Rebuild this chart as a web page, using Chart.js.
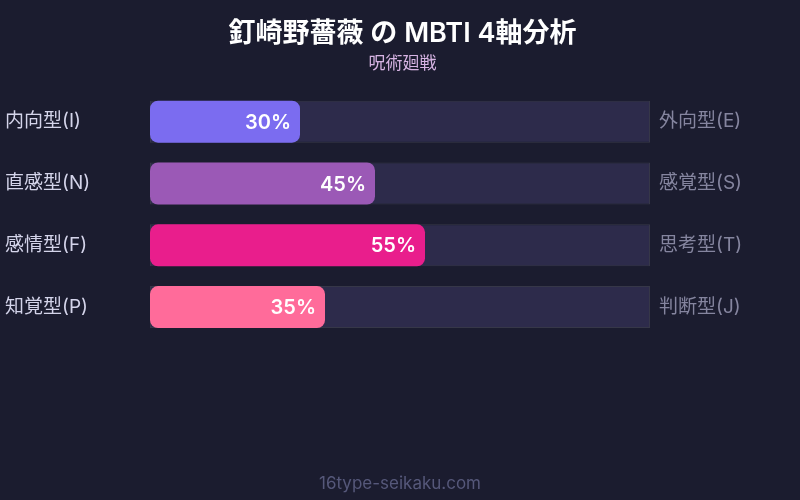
<!DOCTYPE html>
<html>
<head>
<meta charset="utf-8">
<script src="https://cdn.jsdelivr.net/npm/chart.js@4.4.1/dist/chart.umd.min.js"></script>
<style>
  html, body { margin: 0; padding: 0; background: #1b1c2f; }
  #wrap { width: 800px; height: 500px; }
</style>
</head>
<body>
<div id="wrap"><canvas id="mbti"></canvas></div>
<script>
var leftLabels = ['内向型(I)', '直感型(N)', '感情型(F)', '知覚型(P)'];
var rightLabels = ['外向型(E)', '感覚型(S)', '思考型(T)', '判断型(J)'];
var scores = [30, 45, 55, 35];
var fullScale = [100, 100, 100, 100];
var barColors = ['#7b6cf0', '#9b59b6', '#e91e8c', '#ff6b9a'];

var FONT = "Inter, 'Noto Sans CJK JP', sans-serif";

// percent text inside the end of each bar
var valueLabels = {
  id: 'valueLabels',
  afterDatasetsDraw: function(chart) {
    var c = chart.ctx;
    var meta = chart.getDatasetMeta(0);
    c.save();
    c.font = '600 20px ' + FONT;
    c.fillStyle = '#ffffff';
    c.textAlign = 'right';
    c.textBaseline = 'middle';
    meta.data.forEach(function(bar, i) {
      c.fillText(scores[i] + '%', bar.x - 9, bar.y + 1);
    });
    c.restore();
  }
};

// site name at the bottom
var footer = {
  id: 'footer',
  afterDraw: function(chart) {
    var c = chart.ctx;
    c.save();
    c.font = '17px ' + FONT;
    c.fillStyle = '#56587a';
    c.textAlign = 'center';
    c.textBaseline = 'middle';
    c.fillText('16type-seikaku.com', chart.width / 2, 484);
    c.restore();
  }
};

var ctx = document.getElementById('mbti').getContext('2d');
var myChart = new Chart(ctx, {
  type: 'bar',
  data: {
    labels: leftLabels,
    datasets: [{
      data: scores,
      backgroundColor: barColors,
      borderRadius: 8,
      borderSkipped: false,
      grouped: false,
      barPercentage: 0.68,
      categoryPercentage: 1
    },
    {
      data: fullScale,
      backgroundColor: '#2d2b4b',
      borderColor: 'rgba(255, 255, 255, 0.12)',
      borderWidth: 1,
      borderSkipped: false,
      grouped: false,
      barPercentage: 0.68,
      categoryPercentage: 1
    }]
  },
  options: {
    indexAxis: 'y',
    responsive: true,
    maintainAspectRatio: false,
    animation: false,
    events: [],
    layout: { padding: { left: 5, right: 0, top: 0, bottom: 162 } },
    plugins: {
      legend: { display: false },
      tooltip: { enabled: false },
      title: {
        display: true,
        text: '釘崎野薔薇 の MBTI 4軸分析',
        color: '#ffffff',
        font: { family: FONT, size: 27, weight: '600' },
        padding: { top: 18, bottom: 1 }
      },
      subtitle: {
        display: true,
        text: '呪術廻戦',
        color: '#d7b4e4',
        font: { family: FONT, size: 17 },
        padding: { top: 2, bottom: 17 }
      }
    },
    scales: {
      x: { display: false, min: 0, max: 100 },
      y: {
        position: 'left',
        grid: { display: false, drawTicks: false },
        border: { display: false },
        ticks: { color: '#d4d4ea', font: { family: FONT, size: 19 }, crossAlign: 'far', padding: 0 },
        afterFit: function(scale) { scale.width = 145; }
      },
      y2: {
        type: 'category',
        labels: rightLabels,
        position: 'right',
        grid: { display: false, drawTicks: false },
        border: { display: false },
        ticks: { color: '#85859f', font: { family: FONT, size: 19 }, padding: 9 },
        afterFit: function(scale) { scale.width = 150; }
      }
    }
  },
  plugins: [valueLabels, footer]
});
</script>
</body>
</html>
